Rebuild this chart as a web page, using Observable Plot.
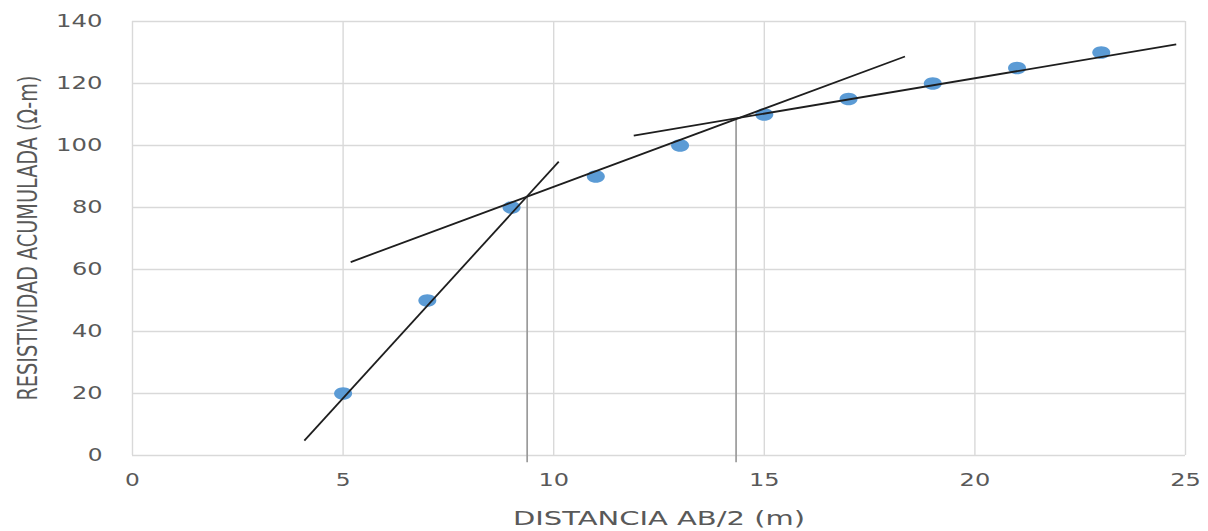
<!DOCTYPE html>
<html>
<head>
<meta charset="utf-8">
<script src="https://cdn.jsdelivr.net/npm/d3@7"></script>
<script src="https://cdn.jsdelivr.net/npm/@observablehq/plot@0.6"></script>
<style>
  html, body { margin: 0; padding: 0; background: #fff; }
  #chart svg { display: block; }
</style>
</head>
<body>
<div id="chart"></div>
<script>
// ---- data ----
const distancia = [5, 7, 9, 11, 13, 15, 17, 19, 21, 23];
const resistividad = [20, 50, 80, 90, 100, 110, 115, 120, 125, 130];

// hand-drawn tangent segments (start / end in data units)
const tramoX1 = [4.08, 5.18, 11.9];
const tramoY1 = [4.8, 62.4, 103.2];
const tramoX2 = [10.12, 18.34, 24.78];
const tramoY2 = [94.8, 128.7, 132.6];

// vertical markers at the intersections
const corteX = [9.37, 14.33];
const corteYTop = [83.3, 108.6];
const corteYBottom = [-2.3, -2.3];

const xTicks = [0, 5, 10, 15, 20, 25];
const yTicks = [0, 20, 40, 60, 80, 100, 120, 140];
const xLabel = "DISTANCIA AB/2 (m)";
const yLabel = "RESISTIVIDAD ACUMULADA (Ω-m)";

// ---- tables built from the arrays ----
const puntos = distancia.map((d, i) => ({x: d, y: resistividad[i]}));
const tramos = tramoX1.map((d, i) => ({x1: d, y1: tramoY1[i], x2: tramoX2[i], y2: tramoY2[i]}));
const cortes = corteX.map((d, i) => ({x: d, y1: corteYBottom[i], y2: corteYTop[i]}));

const ellipse = {
  draw(ctx) {
    const rx = 9, ry = 6.3, k = 0.5523;
    ctx.moveTo(rx, 0);
    ctx.bezierCurveTo(rx, ry * k, rx * k, ry, 0, ry);
    ctx.bezierCurveTo(-rx * k, ry, -rx, ry * k, -rx, 0);
    ctx.bezierCurveTo(-rx, -ry * k, -rx * k, -ry, 0, -ry);
    ctx.bezierCurveTo(rx * k, -ry, rx, -ry * k, rx, 0);
    ctx.closePath();
  }
};

const gray = "#595959";

const chart = Plot.plot({
  width: 1208,
  height: 531,
  marginLeft: 132,
  marginRight: 23,
  marginTop: 21,
  marginBottom: 76,
  style: {fontFamily: "'DejaVu Sans', sans-serif", background: "#fff"},
  x: {domain: [0, 25]},
  y: {domain: [0, 140]},
  marks: [
    Plot.gridX(xTicks, {stroke: "#d9d9d9", strokeOpacity: 1, strokeWidth: 1.4}),
    Plot.gridY(yTicks, {stroke: "#d9d9d9", strokeOpacity: 1, strokeWidth: 1.4}),
    Plot.axisX(xTicks, {tickSize: 0, tickPadding: 18, fontSize: 18, color: gray, label: null}),
    Plot.axisY(yTicks, {tickSize: 0, tickPadding: 30, fontSize: 18, color: gray, label: null}),
    Plot.ruleX(cortes, {x: "x", y1: "y1", y2: "y2", stroke: "#9a9a9a", strokeWidth: 1.7}),
    Plot.dot(puntos, {x: "x", y: "y", symbol: ellipse, fill: "#5b9bd5", stroke: "none", r: 6}),
    Plot.link(tramos, {x1: "x1", y1: "y1", x2: "x2", y2: "y2", stroke: "#1e1e1e", strokeWidth: 1.8})
  ]
});

document.getElementById("chart").appendChild(chart);

// stretch the text horizontally like the reference (widened export)
const svg = d3.select(chart);
svg.selectAll('g[aria-label="x-axis tick label"] text, g[aria-label="y-axis tick label"] text')
  .each(function() {
    const n = this.textContent.length;
    d3.select(this).attr("textLength", n * 15.8 - 1).attr("lengthAdjust", "spacingAndGlyphs");
  });

svg.append("text")
  .attr("transform", "translate(659,525)")
  .attr("text-anchor", "middle")
  .attr("font-family", "'DejaVu Sans', sans-serif")
  .attr("font-size", 19)
  .attr("fill", gray)
  .attr("textLength", 292).attr("lengthAdjust", "spacingAndGlyphs")
  .text(xLabel);

svg.append("text")
  .attr("transform", "translate(37,238) rotate(-90) scale(1,1.45)")
  .attr("text-anchor", "middle")
  .attr("font-family", "'DejaVu Sans', sans-serif")
  .attr("font-size", 18)
  .attr("fill", gray)
  .attr("textLength", 325).attr("lengthAdjust", "spacingAndGlyphs")
  .text(yLabel);
</script>
</body>
</html>
